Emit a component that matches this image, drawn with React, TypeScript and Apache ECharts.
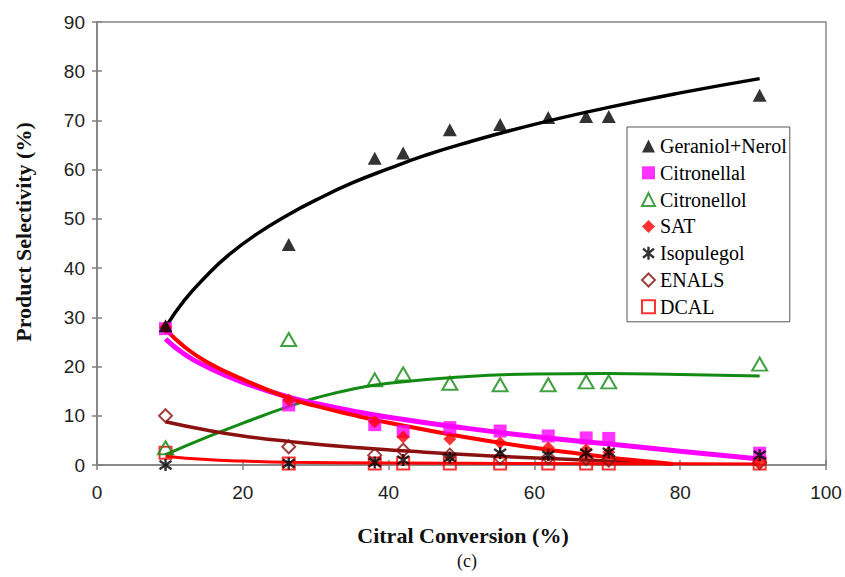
import React, { useEffect, useRef } from "react";
import * as echarts from "echarts";

// ---- Data ----
const conversion = [9.4, 26.3, 38.1, 42.0, 48.4, 55.3, 61.9, 67.1, 70.2, 90.9];

const geraniolNerol = [28.3, 44.8, 62.3, 63.4, 68.1, 69.2, 70.6, 70.8, 70.8, 75.1];
const citronellal = [27.7, 12.2, 8.2, 6.8, 7.6, 6.9, 5.9, 5.5, 5.4, 2.4];
const citronellol = [3.5, 25.5, 17.3, 18.5, 16.6, 16.3, 16.3, 16.9, 16.9, 20.5];
const sat = [28.0, 13.2, 8.8, 5.7, 5.3, 4.5, 3.5, 3.1, 2.6, 0.5];
const isopulegol = [0.0, 0.3, 0.5, 1.0, 1.5, 2.4, 2.0, 2.4, 2.6, 2.0];
const enals = [10.0, 3.7, 2.0, 3.0, 2.0, 1.5, 1.5, 1.3, 1.0, 0.5];
const dcal = [2.5, 0.3, 0.3, 0.3, 0.3, 0.3, 0.3, 0.3, 0.3, 0.3];

// Trend curves
const geraniolFitX = [9.4, 12, 15, 18, 22, 26.3, 30, 35, 40, 45, 50, 60, 70, 80, 90.9];
const geraniolFitY = [28.0, 33.5, 38.4, 42.6, 47.0, 50.9, 53.8, 57.3, 60.2, 62.9, 65.2, 69.2, 72.6, 75.6, 78.5];

const citronellalFitX = [9.4, 12, 15, 20, 26.3, 30, 35, 40, 50, 60, 70, 80, 90.9];
const citronellalFitY = [25.6, 22.5, 20.0, 16.8, 13.8, 12.5, 11.0, 9.7, 7.6, 5.8, 4.3, 2.8, 1.2];

const satFitX = [9.4, 12, 15, 20, 26.3, 30, 35, 40, 50, 60, 70, 75, 79];
const satFitY = [27.6, 24.0, 21.0, 17.4, 13.6, 12.0, 10.2, 8.6, 5.8, 3.5, 1.6, 0.8, 0.2];

const citronellolFitX = [9.4, 15, 20, 26.3, 30, 35, 40, 50, 60, 70, 80, 90.9];
const citronellolFitY = [2.1, 5.6, 8.5, 11.9, 13.6, 15.4, 16.6, 17.9, 18.5, 18.6, 18.4, 18.1];

const enalsFitX = [9.4, 15, 20, 26.3, 35, 45, 55, 62, 70, 79];
const enalsFitY = [8.8, 7.1, 5.9, 4.8, 3.6, 2.6, 1.8, 1.3, 0.8, 0.2];

const dcalFitX = [9.4, 15, 20, 26.3, 40, 60, 80, 90.9];
const dcalFitY = [1.8, 1.1, 0.8, 0.55, 0.4, 0.3, 0.25, 0.2];

const xTicks = { min: 0, max: 100, interval: 20 };
const yTicks = { min: 0, max: 90, interval: 10 };

const legendNames = [
  "Geraniol+Nerol",
  "Citronellal",
  "Citronellol",
  "SAT",
  "Isopulegol",
  "ENALS",
  "DCAL",
];

const pair = (xs: number[], ys: number[]) => xs.map((x, i) => [x, ys[i]]);

const ASTERISK = "path://M5,0L5,10M0.8,1.5L9.2,8.5M0.8,8.5L9.2,1.5";

export default function App() {
  const ref = useRef<HTMLDivElement>(null);

  useEffect(() => {
    if (!ref.current) return;
    const chart = echarts.init(ref.current, null, { renderer: "svg" });

    const fit = (name: string, xs: number[], ys: number[], color: string, width: number, z: number) => ({
      name,
      type: "line",
      data: pair(xs, ys),
      smooth: 0.5,
      symbol: "none",
      showSymbol: false,
      silent: true,
      z,
      lineStyle: { color, width },
      itemStyle: { color },
    });

    const scatter = (name: string, ys: number[], symbol: string, size: number | number[], itemStyle: any, z = 5) => ({
      name,
      type: "scatter",
      data: pair(conversion, ys),
      symbol,
      symbolSize: size,
      z,
      itemStyle,
    });

    const axisLabelFont = { fontFamily: "Liberation Sans, Arial, sans-serif", fontSize: 19, color: "#222" };
    const axisLine = { show: true, lineStyle: { color: "#808080", width: 1.5 } };

    chart.setOption({
      animation: false,
      backgroundColor: "#fff",
      grid: {
        left: 97,
        right: 19,
        top: 22,
        bottom: 112,
        show: true,
        borderColor: "#888",
        borderWidth: 1.5,
        backgroundColor: "transparent",
      },
      legend: {
        orient: "vertical",
        left: 627,
        top: 127,
        padding: [9, 3, 5, 14],
        itemGap: 6.8,
        itemWidth: 13,
        itemHeight: 13,
        borderColor: "#555",
        borderWidth: 1,
        backgroundColor: "#fff",
        textStyle: { fontFamily: "Liberation Serif, Times New Roman, serif", fontSize: 20, color: "#000" },
        data: [
          { name: legendNames[0], icon: "triangle", itemStyle: { color: "#000" } },
          { name: legendNames[1], icon: "rect", itemStyle: { color: "#ff00ff" } },
          { name: legendNames[2], icon: "triangle", itemStyle: { color: "transparent", borderColor: "#138a13", borderWidth: 2 } },
          { name: legendNames[3], icon: "diamond", itemStyle: { color: "#ff0000" } },
          { name: legendNames[4], icon: ASTERISK, itemStyle: { color: "transparent", borderColor: "#000", borderWidth: 2.4 } },
          { name: legendNames[5], icon: "diamond", itemStyle: { color: "transparent", borderColor: "#8b1010", borderWidth: 2 } },
          { name: legendNames[6], icon: "rect", itemStyle: { color: "transparent", borderColor: "#ff0000", borderWidth: 2 } },
        ],
      },
      xAxis: [
        {
          type: "value",
          ...xTicks,
          position: "bottom",
          axisLine,
          axisTick: { show: true, length: 5, lineStyle: { color: "#808080", width: 1.5 } },
          axisLabel: { ...axisLabelFont, margin: 18 },
          splitLine: { show: false },
        },
        {
          type: "value",
          ...xTicks,
          position: "bottom",
          axisLine: { show: false },
          axisTick: { show: true, inside: true, length: 5, lineStyle: { color: "#808080", width: 1.5 } },
          axisLabel: { show: false },
          splitLine: { show: false },
        },
      ],
      yAxis: [
        {
          type: "value",
          ...yTicks,
          position: "left",
          axisLine,
          axisTick: { show: true, length: 5, lineStyle: { color: "#808080", width: 1.5 } },
          axisLabel: { ...axisLabelFont, margin: 12 },
          splitLine: { show: false },
        },
        {
          type: "value",
          ...yTicks,
          position: "left",
          axisLine: { show: false },
          axisTick: { show: true, inside: true, length: 5, lineStyle: { color: "#808080", width: 1.5 } },
          axisLabel: { show: false },
          splitLine: { show: false },
        },
      ],
      graphic: [
        {
          type: "text",
          x: 23,
          y: 232,
          rotation: Math.PI / 2,
          style: {
            text: "Product Selectivity (%)",
            font: "bold 22px 'Liberation Serif', 'Times New Roman', serif",
            fill: "#111",
            textAlign: "center",
            textVerticalAlign: "middle",
          },
        },
        {
          type: "text",
          x: 463,
          y: 535,
          style: {
            text: "Citral Conversion (%)",
            font: "bold 22px 'Liberation Serif', 'Times New Roman', serif",
            fill: "#111",
            textAlign: "center",
            textVerticalAlign: "middle",
          },
        },
        {
          type: "text",
          x: 467,
          y: 561,
          style: {
            text: "(c)",
            font: "18px 'Liberation Serif', 'Times New Roman', serif",
            fill: "#111",
            textAlign: "center",
            textVerticalAlign: "middle",
          },
        },
      ],
      series: [
        fit("fit-citronellol", citronellolFitX, citronellolFitY, "#138a13", 3, 2),
        fit("fit-enals", enalsFitX, enalsFitY, "#8b1010", 3.5, 2),
        fit("fit-dcal", dcalFitX, dcalFitY, "#ff0000", 3, 2),
        fit("fit-citronellal", citronellalFitX, citronellalFitY, "#ff00ff", 5, 3),
        fit("fit-sat", satFitX, satFitY, "#ff0000", 4, 3),
        fit("fit-geraniol", geraniolFitX, geraniolFitY, "#000", 3.5, 3),
        scatter("DCAL", dcal, "rect", 12, { color: "transparent", borderColor: "#ff0000", borderWidth: 2 }),
        scatter("ENALS", enals, "diamond", 13, { color: "transparent", borderColor: "#8b1010", borderWidth: 2 }),
        scatter("Citronellal", citronellal, "rect", 13, { color: "#ff00ff" }),
        scatter("SAT", sat, "diamond", 13, { color: "#ff0000" }),
        scatter("Isopulegol", isopulegol, ASTERISK, 12, { color: "transparent", borderColor: "#000", borderWidth: 2.4 }),
        scatter("Citronellol", citronellol, "triangle", [15, 13], { color: "transparent", borderColor: "#138a13", borderWidth: 2 }),
        scatter("Geraniol+Nerol", geraniolNerol, "triangle", [14, 13], { color: "#000" }),
      ],
    });

    return () => chart.dispose();
  }, []);

  return (
    <div
      ref={ref}
      style={{ position: "fixed", left: 0, top: 0, width: 845, height: 577, background: "#fff" }}
    />
  );
}
